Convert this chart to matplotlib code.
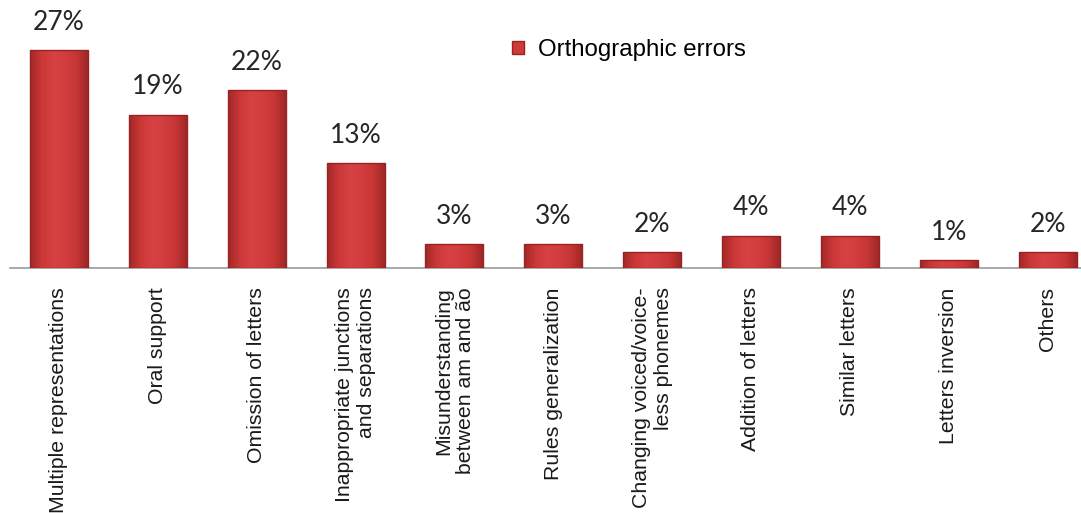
import numpy as np
import matplotlib
matplotlib.use("Agg")
import matplotlib.pyplot as plt
from matplotlib.patches import Patch
from matplotlib.colors import LinearSegmentedColormap

categories = [
    "Multiple representations",
    "Oral support",
    "Omission of letters",
    "Inappropriate junctions\nand separations",
    "Misunderstanding\nbetween am and ão",
    "Rules generalization",
    "Changing voiced/voice-\nless phonemes",
    "Addition of letters",
    "Similar letters",
    "Letters inversion",
    "Others",
]
values = [27, 19, 22, 13, 3, 3, 2, 4, 4, 1, 2]
labels = ["27%", "19%", "22%", "13%", "3%", "3%", "2%", "4%", "4%", "1%", "2%"]

plt.rcParams['font.family'] = ['Liberation Sans', 'DejaVu Sans']

W, H = 1081, 513
fig = plt.figure(figsize=(W / 100, H / 100), dpi=100)
ax = fig.add_axes([9.5 / W, (H - 268) / H, 1071.5 / W, 268 / H])

x = np.arange(len(categories))
bar_color = "#cf3a3a"
bars = ax.bar(x, values, width=0.587, color=bar_color, edgecolor="#962424",
              linewidth=1.0, zorder=3)

# soft shading across each bar, like the original's bevelled look
cmap = LinearSegmentedColormap.from_list(
    "bev", ["#a32828", "#cc3838", "#d64141", "#d23d3d", "#c63535", "#9c2626"])
grad = np.linspace(0, 1, 64).reshape(1, -1)
for b in bars:
    x0, y0 = b.get_x(), b.get_y()
    im = ax.imshow(grad, cmap=cmap, aspect="auto", zorder=3.5,
                   extent=(x0, x0 + b.get_width(), y0, y0 + b.get_height()))
    im.set_clip_path(b)
    b.set_facecolor("none")
    b.set_zorder(4)

for xi, v, lab in zip(x, values, labels):
    ax.annotate(lab, (xi, v), xytext=(0, 11), textcoords="offset points",
                ha="center", va="bottom", fontsize=19, color="#262626",
                family=["Lato", "DejaVu Sans"])

ax.set_xlim(-0.5, 10.338)
ax.set_ylim(0, 268 / 8.07)

for s in ["top", "right", "left"]:
    ax.spines[s].set_visible(False)
ax.spines["bottom"].set_color("#9a9a9a")
ax.spines["bottom"].set_linewidth(1.2)
ax.set_yticks([])
ax.set_xticks(x)
ax.set_xticklabels(categories, rotation=90, ha="center", va="top",
                   multialignment="right", fontsize=15.3, color="#1a1a1a")
ax.tick_params(axis="x", length=0, pad=14)

handle = Patch(facecolor=bar_color, edgecolor="#962424")
ax.legend([handle], ["Orthographic errors"], loc="center left",
          bbox_to_anchor=(512 / W, 1 - 50 / H), bbox_transform=fig.transFigure,
          frameon=False, fontsize=17.3, handlelength=0.5, handleheight=0.5,
          handletextpad=0.6, borderpad=0, borderaxespad=0)

fig.savefig("out.png", dpi=100)
